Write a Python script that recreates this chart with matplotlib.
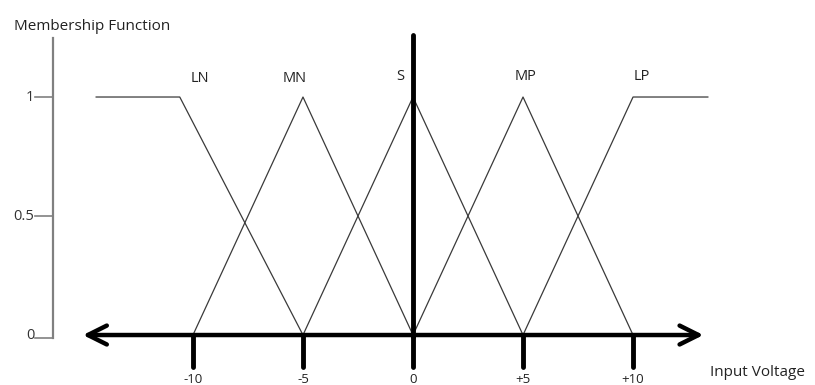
import matplotlib
matplotlib.use('Agg')
from matplotlib import pyplot as plt

plt.rcParams['font.family'] = ['Open Sans', 'DejaVu Sans']

# membership function breakpoints (input voltage, membership)
ln_x = [-14.4, -10.6, -5]
ln_y = [1, 1, 0]
mn_x = [-10, -5, 0]
mn_y = [0, 1, 0]
s_x = [-5, 0, 5]
s_y = [0, 1, 0]
mp_x = [0, 5, 10]
mp_y = [0, 1, 0]
lp_x = [5, 10.0, 13.4]
lp_y = [0, 1, 1]

set_names = ['LN', 'MN', 'S', 'MP', 'LP']
label_x = [-9.7, -5.4, -0.6, 5.1, 10.4]
label_y = [1.045, 1.045, 1.055, 1.055, 1.055]

xticks = [-10, -5, 0, 5, 10]
xticklabels = ['-10', '-5', '0', '+5', '+10']
yticks = [0, 0.5, 1]
yticklabels = ['0', '0.5', '1']

fig = plt.figure(figsize=(8.15, 3.85), dpi=100)
ax = fig.add_axes([0, 0, 1, 1])
ax.set_xlim(-18.77, 18.27)
ax.set_ylim(-0.21, 1.4076)
ax.axis('off')

# membership curves
for xs, ys in [(ln_x, ln_y), (mn_x, mn_y), (s_x, s_y), (mp_x, mp_y), (lp_x, lp_y)]:
    ax.plot(xs, ys, color='#3a3a3a', lw=0.9)
for name, x, y in zip(set_names, label_x, label_y):
    ax.text(x, y, name, ha='center', va='bottom', fontsize=10.5, color='#222')

# left membership axis (grey)
yax = -16.36
ax.plot([yax, yax], [-0.012, 1.25], color='#808080', lw=1.6)
for t, lab in zip(yticks, yticklabels):
    ty = t - 0.012 if t == 0 else t
    ax.plot([yax - 0.82, yax], [ty, ty], color='#808080', lw=1.2)
    ax.text(yax - 0.85, t, lab, ha='right', va='center', fontsize=10.5, color='#333')
ax.text(-18.15, 1.265, 'Membership Function', ha='left', va='bottom', fontsize=11, color='#222')

# input voltage axis with arrows
ax.annotate('', xy=(13.2, 0), xytext=(-15.0, 0),
            arrowprops=dict(arrowstyle='<->', lw=3.2, color='black', mutation_scale=34,
                            shrinkA=0, shrinkB=0))
ax.plot([0, 0], [-0.01, 1.26], color='black', lw=3.5, solid_capstyle='round')
for t, lab in zip(xticks, xticklabels):
    ax.plot([t, t], [0, -0.135], color='black', lw=3.5, solid_capstyle='round')
    ax.text(t, -0.158, lab, ha='center', va='top', fontsize=9.5, color='#222')
ax.text(13.5, -0.125, 'Input Voltage', ha='left', va='top', fontsize=11, color='#222')

fig.savefig('out.png', dpi=100)
